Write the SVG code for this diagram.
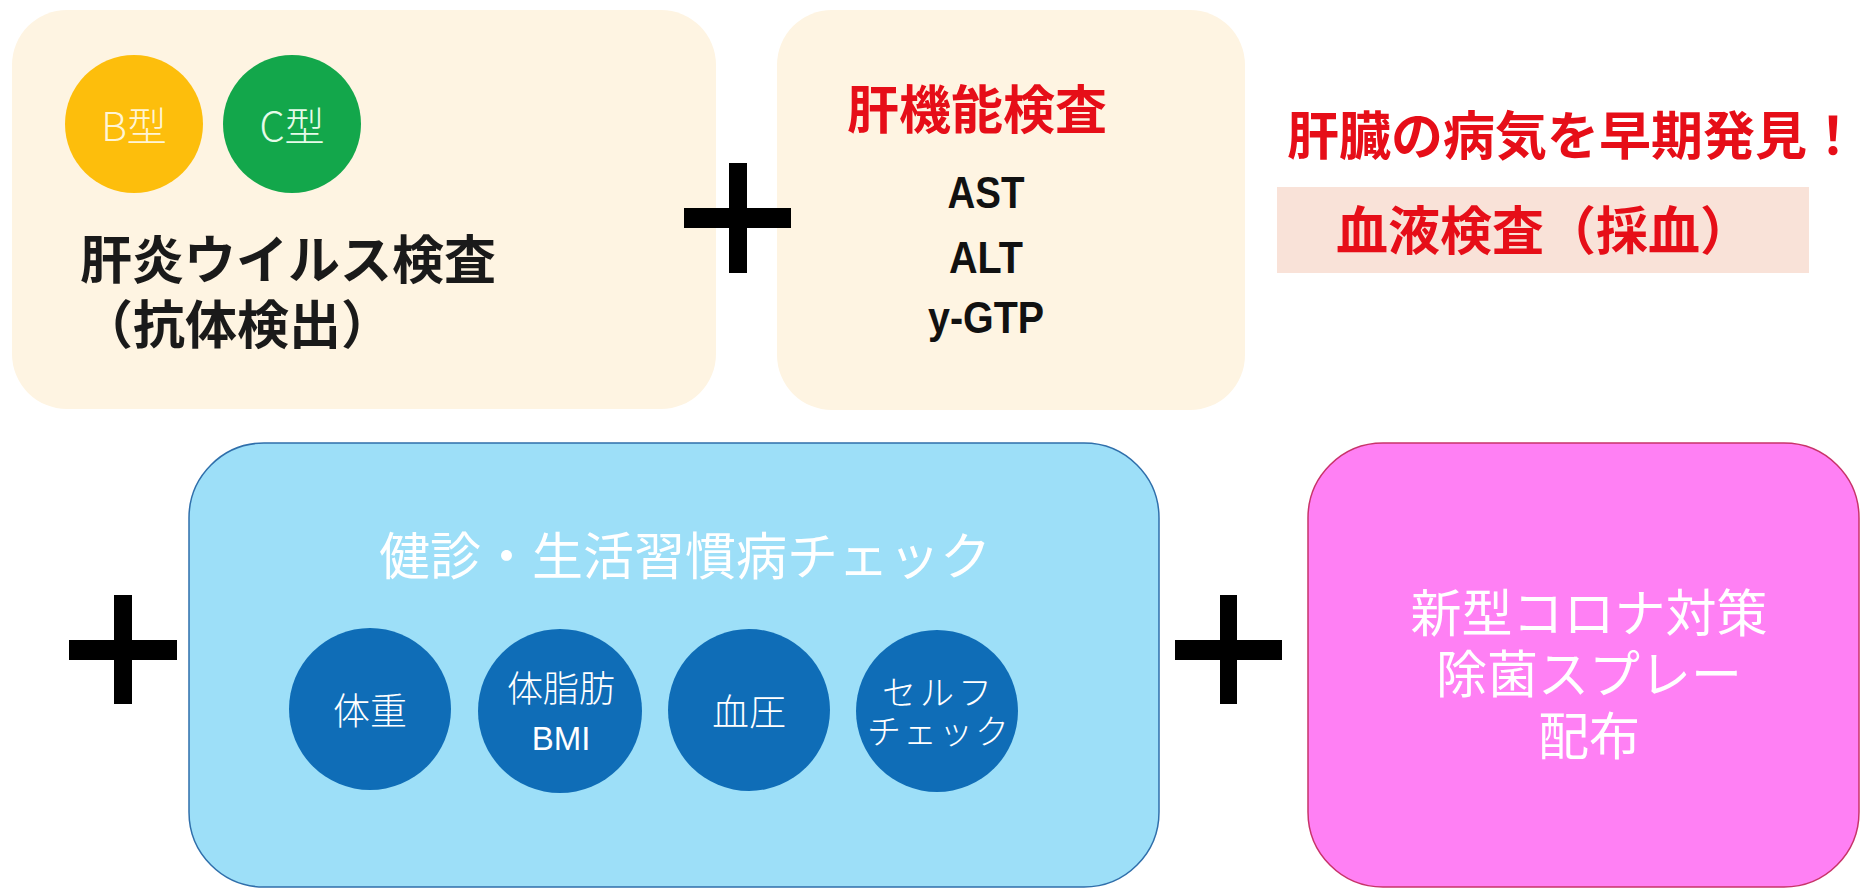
<svg xmlns="http://www.w3.org/2000/svg" width="1861" height="889" viewBox="0 0 1861 889">
<style>
  .jp { font-family: "Noto Sans CJK JP", "Noto Sans", sans-serif; dominant-baseline: central; }
  .cream { fill: #fef4e2; }
  .bold { font-weight: 700; }
  .light { font-weight: 300; }
  .red { fill: #e60e18; }
  .dark { fill: #1a1a1a; }
  .white { fill: #ffffff; }
  .lat { font-family: "Liberation Sans", Arial, sans-serif; font-weight: 700; fill: #111111; font-size: 44px; }
  .dot { fill: #0f6db7; }
  .plus { fill: #000000; }
</style>
<rect x="0" y="0" width="1861" height="889" fill="#ffffff"/>

<g id="hepatitis-test">
  <rect class="cream" x="12" y="10" width="704" height="399" rx="55"/>
  <circle cx="134" cy="124" r="69" fill="#fdbe0c"/>
  <text class="jp light" x="134" y="124" font-size="40" text-anchor="middle" fill="#fff5d6">B型</text>
  <circle cx="292" cy="124" r="69" fill="#13a74b"/>
  <text class="jp light" x="292" y="124" font-size="40" text-anchor="middle" fill="#e6fbe9">C型</text>
  <text class="jp bold dark" x="80" y="256" font-size="52">肝炎ウイルス検査</text>
  <text class="jp bold dark" x="81" y="321" font-size="52">（抗体検出）</text>
</g>

<g id="liver-function-test">
  <rect class="cream" x="777" y="10" width="468" height="400" rx="55"/>
  <text class="jp bold red" x="977" y="106" font-size="52" text-anchor="middle">肝機能検査</text>
  <text class="lat" x="986" y="208" text-anchor="middle" textLength="77" lengthAdjust="spacingAndGlyphs">AST</text>
  <text class="lat" x="986" y="273" text-anchor="middle" textLength="74" lengthAdjust="spacingAndGlyphs">ALT</text>
  <text class="lat" x="986" y="333" text-anchor="middle" textLength="116" lengthAdjust="spacingAndGlyphs">y-GTP</text>
</g>

<g id="blood-test-note">
  <text class="jp bold red" x="1287" y="132" font-size="52">肝臓の病気を早期発見！</text>
  <rect x="1277" y="187" width="532" height="86" fill="#f9e2d8"/>
  <text class="jp bold red" x="1336" y="227" font-size="52">血液検査（採血）</text>
</g>

<g id="health-check">
  <rect x="189" y="443" width="970" height="444" rx="75" fill="#9ddff8" stroke="#2f6fab" stroke-width="1.5"/>
  <text class="jp white" x="685" y="553" font-size="51" text-anchor="middle">健診・生活習慣病チェック</text>
  <g id="weight">
    <circle class="dot" cx="370" cy="709" r="81"/>
    <text class="jp white light" x="370" y="709" font-size="37" text-anchor="middle">体重</text>
  </g>
  <g id="body-fat">
    <circle class="dot" cx="560" cy="711" r="82"/>
    <text class="jp white light" x="561" y="686" font-size="36" text-anchor="middle">体脂肪</text>
    <text x="561" y="750" font-family="Liberation Sans, Arial, sans-serif" font-size="33" fill="#ffffff" text-anchor="middle">BMI</text>
  </g>
  <g id="blood-pressure">
    <circle class="dot" cx="749" cy="710" r="81"/>
    <text class="jp white light" x="749" y="710" font-size="37" text-anchor="middle">血圧</text>
  </g>
  <g id="self-check">
    <circle class="dot" cx="937" cy="711" r="81"/>
    <text class="jp white light" x="939" y="690" font-size="34" text-anchor="middle" letter-spacing="4">セルフ</text>
    <text class="jp white light" x="939" y="729" font-size="34" text-anchor="middle" letter-spacing="2">チェック</text>
  </g>
</g>

<g id="covid-measures">
  <rect x="1308" y="443" width="551" height="444" rx="75" fill="#ff80f4" stroke="#c8336a" stroke-width="1.5"/>
  <text class="jp white" x="1589" y="610" font-size="51" text-anchor="middle">新型コロナ対策</text>
  <text class="jp white" x="1589" y="671" font-size="51" text-anchor="middle">除菌スプレー</text>
  <text class="jp white" x="1589" y="733" font-size="51" text-anchor="middle">配布</text>
</g>

<g id="plus-signs">
  <g id="plus-1">
    <rect class="plus" x="684" y="208" width="107" height="20"/>
    <rect class="plus" x="729" y="163" width="18" height="110"/>
  </g>
  <g id="plus-2">
    <rect class="plus" x="69" y="640" width="108" height="20"/>
    <rect class="plus" x="114" y="595" width="18" height="109"/>
  </g>
  <g id="plus-3">
    <rect class="plus" x="1175" y="640" width="107" height="20"/>
    <rect class="plus" x="1220" y="595" width="17" height="109"/>
  </g>
</g>
</svg>
